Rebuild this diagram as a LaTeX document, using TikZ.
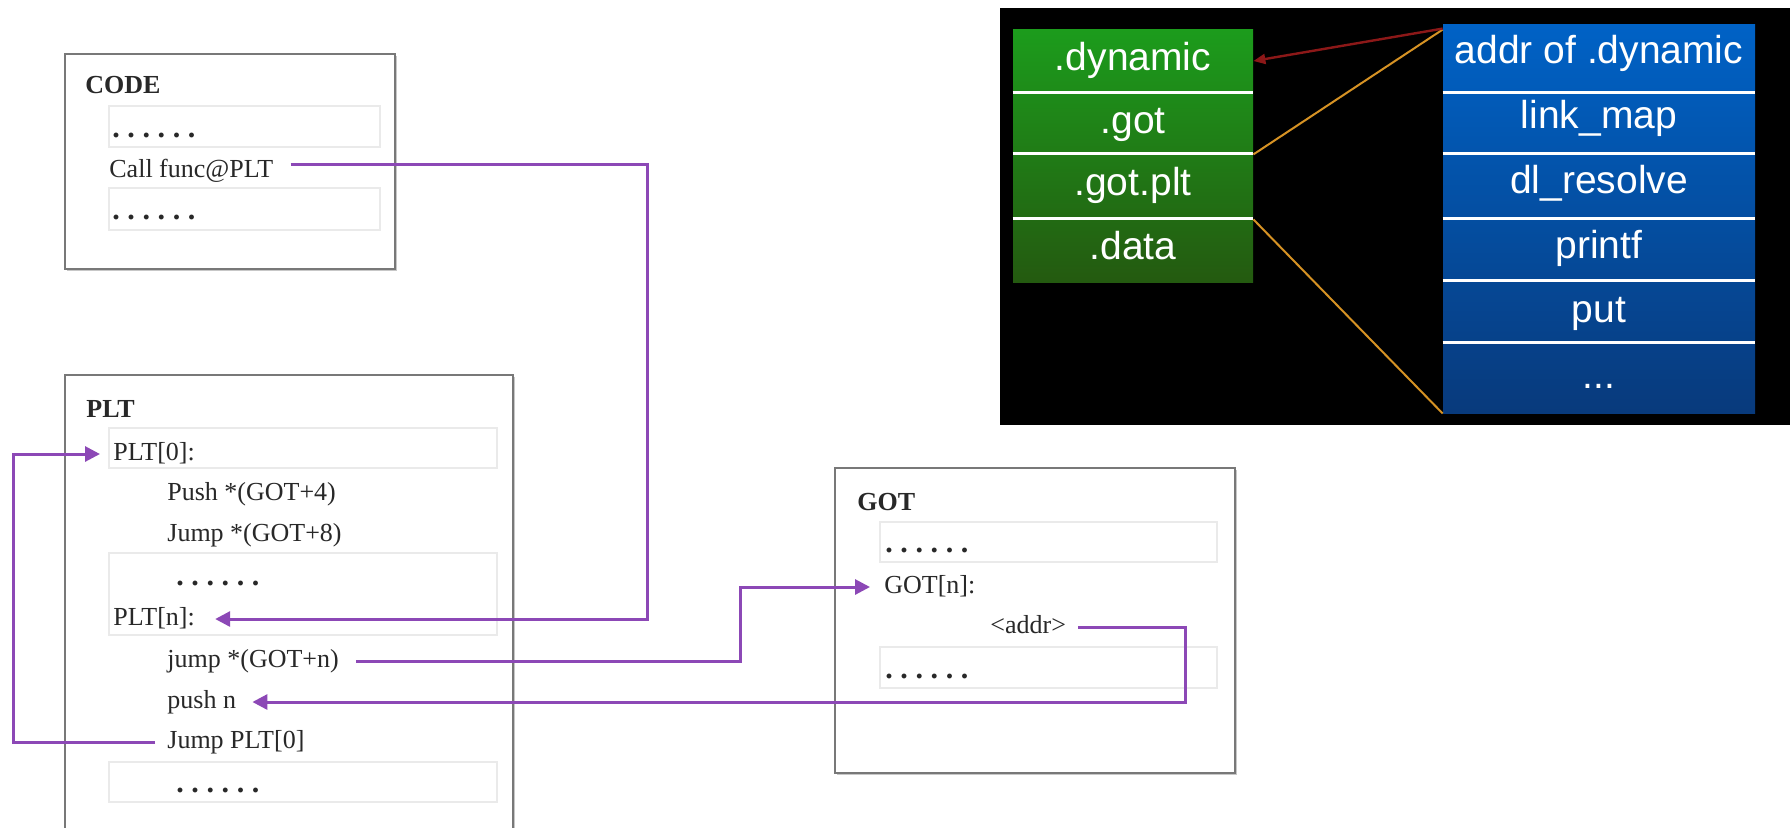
\documentclass[tikz,border=0pt]{standalone}
\usepackage{fontspec}
\setmainfont{Liberation Serif}
\newfontfamily\panelfont{Liberation Sans}
\usetikzlibrary{arrows.meta,fit,shadows}

\definecolor{linkpurple}{RGB}{140,72,182}
\definecolor{boxgray}{RGB}{120,120,120}
\definecolor{rowgray}{RGB}{234,234,234}
\definecolor{inkdark}{RGB}{40,40,40}
\definecolor{secgreenA}{RGB}{28,156,28}
\definecolor{secgreenB}{RGB}{36,90,16}
\definecolor{tabblueA}{RGB}{0,98,198}
\definecolor{tabblueB}{RGB}{8,58,124}
\definecolor{ptrred}{RGB}{140,24,24}
\definecolor{ptrorange}{RGB}{214,146,36}

% six spaced bold dots used as filler rows
\newcommand{\sixdots}{{\fontsize{15}{15}\selectfont\bfseries.\kern3.8pt.\kern3.8pt.\kern3.8pt.\kern3.8pt.\kern3.8pt.}}

\begin{document}
\begin{tikzpicture}[x=0.5pt,y=-0.5pt,
  mainbox/.style={draw=boxgray, line width=1pt, inner sep=0pt, fill=white,
    general shadow={shadow xshift=1pt, shadow yshift=-1pt, fill=black!22}},
  rowbox/.style={draw=rowgray, line width=0.8pt, inner sep=0pt},
  codetxt/.style={anchor=base west, inner sep=0pt, text height=9pt, text depth=3pt,
    text=inkdark, font=\fontsize{13}{15}\selectfont},
  headtxt/.style={codetxt, font=\fontsize{13}{15}\selectfont\bfseries},
  conn/.style={draw=linkpurple, line width=1.5pt},
  tip/.style={-{Triangle[length=7.5pt,width=7.5pt]}},
  cell/.style={inner sep=0pt},
  celltxt/.style={anchor=base, inner sep=0pt, text=white,
    font=\panelfont\fontsize{19.5}{22}\selectfont},
  sep/.style={draw=white, line width=1.2pt},
]
\useasboundingbox (0,0) rectangle (1790,827);
\clip (0,0) rectangle (1790,827);
\fill[white] (0,0) rectangle (1790,827);

% ---------------- CODE section ----------------
\node[mainbox, fit={(65,54) (395,269)}] (codebox) {};
\node[rowbox, fit={(109,106) (380,147)}] (coderowA) {};
\node[rowbox, fit={(109,188) (380,230)}] (coderowB) {};
\node[headtxt] (codehead) at (85,93) {CODE};
\node[codetxt] (codedotsA) at (112,137) {\sixdots};
\node[codetxt] (call) at (109,177) {Call func@PLT};
\node[codetxt] (codedotsB) at (112,219) {\sixdots};

% ---------------- PLT section ----------------
\node[mainbox, fit={(65,375) (513,870)}] (pltbox) {};
\node[rowbox, fit={(109,428) (497,468)}] (pltrowA) {};
\node[rowbox, fit={(109,553) (497,635)}] (pltrowB) {};
\node[rowbox, fit={(109,762) (497,802)}] (pltrowC) {};
\node[headtxt] (plthead) at (86,417) {PLT};
\node[codetxt] (pltzero) at (113,460) {PLT[0]:};
\node[codetxt] (pushgot) at (167,500) {Push *(GOT+4)};
\node[codetxt] (jumpgot) at (167,541) {Jump *(GOT+8)};
\node[codetxt] (pltdotsA) at (176,585) {\sixdots};
\node[codetxt] (pltn) at (113,625) {PLT[n]:};
\node[codetxt] (jumpn) at (167,667) {jump *(GOT+n)};
\node[codetxt] (pushn) at (167,708) {push n};
\node[codetxt] (jumpzero) at (167,748) {Jump PLT[0]};
\node[codetxt] (pltdotsB) at (176,792) {\sixdots};

% ---------------- GOT section ----------------
\node[mainbox, fit={(835,468) (1235,773)}] (gotbox) {};
\node[rowbox, fit={(880,522) (1217,562)}] (gotrowA) {};
\node[rowbox, fit={(880,647) (1217,688)}] (gotrowB) {};
\node[headtxt] (gothead) at (857,510) {GOT};
\node[codetxt] (gotdotsA) at (885,552) {\sixdots};
\node[codetxt] (gotn) at (884,593) {GOT[n]:};
\node[codetxt, fill=white] (addr) at (990,633) {<addr>};
\node[codetxt] (gotdotsB) at (885,678) {\sixdots};

% ---------------- control-flow connectors ----------------
\coordinate (turnCall) at (647,400);
\coordinate (turnJump) at (740,620);
\coordinate (turnAddr) at (1185,660);
\coordinate (turnBack) at (13,600);

\draw[conn, tip] ([xshift=8.5pt,yshift=3.5pt]call.east) -| (turnCall)
  |- ([xshift=10pt]pltn.east);
\draw[conn, tip] ([xshift=8.5pt]jumpn.east) -| (turnJump)
  |- ([xshift=-7pt]gotn.west);
\draw[conn, tip] ([xshift=6pt]addr.east) -| (turnAddr)
  |- ([xshift=8pt]pushn.east);
\draw[conn, tip] ([xshift=-6pt]jumpzero.west) -| (turnBack)
  |- ([xshift=-6.5pt]pltzero.west);

% ---------------- section / GOT layout panel ----------------
\fill[black] (1000,8) rectangle (1790,425);
\shade[top color=secgreenA, bottom color=secgreenB] (1013,29) rectangle (1253,282);
\shade[top color=tabblueA, bottom color=tabblueB] (1443,24) rectangle (1755,413);

\node[cell, fit={(1013,29) (1253,93)}] (dyn) {};
\node[cell, fit={(1013,93) (1253,154)}] (got) {};
\node[cell, fit={(1013,154) (1253,219)}] (gotplt) {};
\node[cell, fit={(1013,219) (1253,282)}] (data) {};

\node[cell, fit={(1443,24) (1755,93)}] (addrdyn) {};
\node[cell, fit={(1443,93) (1755,154)}] (linkmap) {};
\node[cell, fit={(1443,154) (1755,219)}] (resolve) {};
\node[cell, fit={(1443,219) (1755,281)}] (printf) {};
\node[cell, fit={(1443,281) (1755,343)}] (put) {};
\node[cell, fit={(1443,343) (1755,413)}] (more) {};

\node[celltxt] (dyntxt) at (1133,70) {.dynamic};
\node[celltxt] (gottxt) at (1133,133) {.got};
\node[celltxt] (gotplttxt) at (1133,195) {.got.plt};
\node[celltxt] (datatxt) at (1133,259) {.data};

\node[celltxt] (addrdyntxt) at (1599,63) {addr of .dynamic};
\node[celltxt] (linkmaptxt) at (1599,128) {link\_map};
\node[celltxt] (resolvetxt) at (1599,193) {dl\_resolve};
\node[celltxt] (printftxt) at (1599,258) {printf};
\node[celltxt] (puttxt) at (1599,322) {put};
\node[celltxt] (moretxt) at (1599,388) {...};

\draw[sep] (got.north west) -- (got.north east);
\draw[sep] (gotplt.north west) -- (gotplt.north east);
\draw[sep] (data.north west) -- (data.north east);
\draw[sep] (linkmap.north west) -- (linkmap.north east);
\draw[sep] (resolve.north west) -- (resolve.north east);
\draw[sep] (printf.north west) -- (printf.north east);
\draw[sep] (put.north west) -- (put.north east);
\draw[sep] (more.north west) -- (more.north east);

\draw[ptrorange, line width=1pt] ([yshift=-3pt]addrdyn.north west) -- (got.south east);
\draw[ptrorange, line width=1pt] (gotplt.south east) -- (more.south west);
\draw[ptrred, line width=1.2pt, -{Triangle[length=6pt,width=5pt]}]
  ([yshift=-2.5pt]addrdyn.north west) -- (dyn.east);
\end{tikzpicture}
\end{document}
